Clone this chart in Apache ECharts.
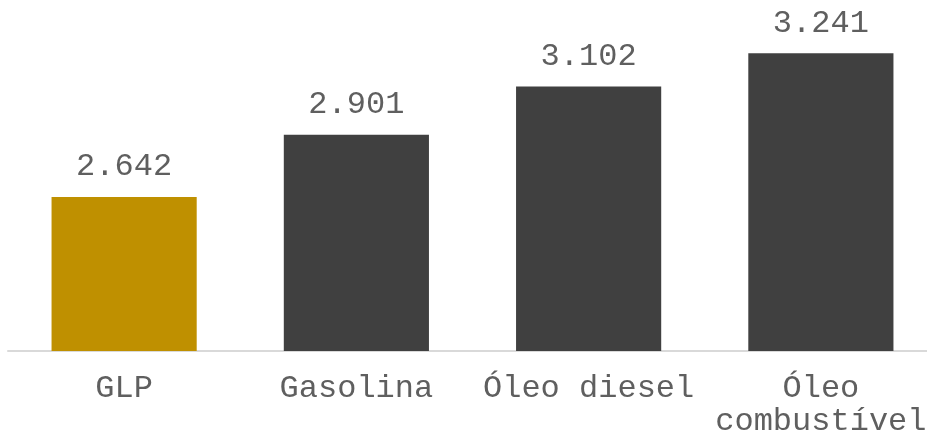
<!DOCTYPE html>
<html>
<head>
<meta charset="utf-8">
<script src="https://cdn.jsdelivr.net/npm/echarts@6/dist/echarts.min.js"></script>
<style>html,body{margin:0;padding:0;background:#fff;}#c{width:927px;height:432px;}</style>
</head>
<body>
<div id="c"></div>
<script>
const categories = ['GLP', 'Gasolina', 'Óleo diesel', 'Óleo\ncombustível'];
const values = [2.642, 2.901, 3.102, 3.241];
const barColors = ['#BF9000', '#404040', '#404040', '#404040'];

const chart = echarts.init(document.getElementById('c'));
chart.setOption({
  animation: false,
  grid: { left: 8, right: -10, top: 15, bottom: 81, containLabel: false, outerBoundsMode: 'none' },
  xAxis: {
    type: 'category',
    data: categories,
    axisLine: { show: true, lineStyle: { color: '#d9d9d9', width: 2 } },
    axisTick: { show: false },
    axisLabel: {
      interval: 0,
      margin: 21,
      fontFamily: "'Courier New', 'Liberation Mono', monospace",
      fontSize: 32,
      lineHeight: 33,
      color: '#5f5f5f'
    }
  },
  yAxis: {
    type: 'value',
    min: 2.0,
    max: 3.4,
    show: false,
    splitLine: { show: false }
  },
  series: [{
    type: 'bar',
    barCategoryGap: '37.5%',
    data: values.map((v, i) => ({ value: v, itemStyle: { color: barColors[i] } })),
    label: {
      show: true,
      position: 'top',
      distance: 14,
      fontFamily: "'Courier New', 'Liberation Mono', monospace",
      fontSize: 32,
      color: '#5f5f5f',
      formatter: p => p.value.toFixed(3)
    }
  }]
});
</script>
</body>
</html>
